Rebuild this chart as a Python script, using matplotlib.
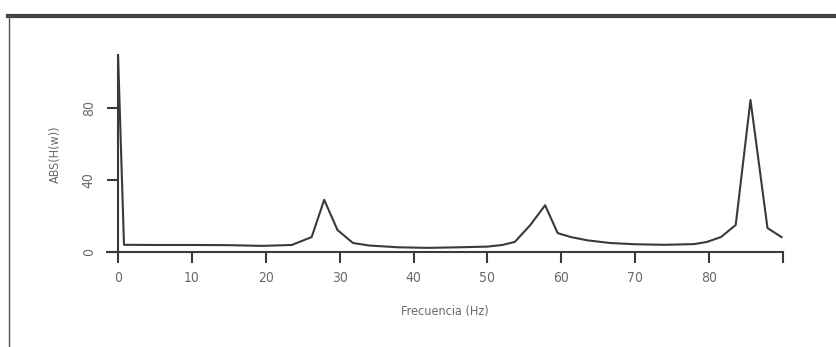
import numpy as np
import matplotlib
matplotlib.use('Agg')
import matplotlib.pyplot as plt
from matplotlib.lines import Line2D
from matplotlib import font_manager

freq = [0, 0.8, 5, 10, 15, 19.5, 23.5, 26.2, 27.9, 29.7, 31.8, 34.0,
        38.0, 42.0, 46.0, 50.0, 52.0, 53.7, 55.8, 57.8, 59.5, 61.3,
        63.5, 66.6, 70.0, 74.0, 78.0, 79.7, 81.6, 83.6, 85.6, 87.9, 89.8]
mag = [109, 4, 3.9, 3.9, 3.8, 3.4, 3.9, 8.3, 29, 12.2, 5.0, 3.6,
       2.6, 2.3, 2.6, 3.0, 3.9, 5.6, 15, 26, 10.5, 8.3,
       6.5, 5.0, 4.3, 4.0, 4.4, 5.6, 8.3, 15, 84.5, 13.3, 8.3]

xticks = [0, 10, 20, 30, 40, 50, 60, 70, 80, 90]
xticklabels = ['0', '10', '20', '30', '40', '50', '60', '70', '80', '']
yticks = [0, 40, 80]
yticklabels = ['0', '40', '80']

# prefer a narrow face when one is around
condensed = [f for f in font_manager.fontManager.ttflist
             if f.name == 'DejaVu Sans' and f.stretch == 'condensed']
if condensed:
    plt.rcParams['font.family'] = 'DejaVu Sans'
    plt.rcParams['font.stretch'] = 'condensed'
else:
    plt.rcParams['font.family'] = 'Liberation Sans'

ink = '#3a3a3a'
txt = '#6a6a6a'

fig = plt.figure(figsize=(8.36, 3.47), dpi=100)
ax = fig.add_axes([107 / 836, 1 - 252 / 347, (783 - 107) / 836, (252 - 55) / 347])

ax.plot(freq, mag, color=ink, lw=1.5)

ax.set_xlim(-1.5, 90)
ax.set_ylim(0, 109.5)
ax.spines['top'].set_visible(False)
ax.spines['right'].set_visible(False)
ax.spines['left'].set_position(('data', 0))
for s in ('left', 'bottom'):
    ax.spines[s].set_color(ink)
    ax.spines[s].set_linewidth(1.5)

ax.set_xticks(xticks)
ax.set_xticklabels(xticklabels)
ax.set_yticks(yticks)
ax.set_yticklabels(yticklabels, rotation=90, va='center')
ax.tick_params(axis='both', direction='out', length=8, width=1.5, color=ink,
               labelcolor=txt, labelsize=10)
ax.tick_params(axis='x', pad=6)
ax.tick_params(axis='y', pad=8)

ax.set_xlabel('Frecuencia (Hz)', color=txt, fontsize=9, labelpad=14)
fig.text(55 / 836, 1 - 154 / 347, 'ABS(H(w))', rotation=90, color=txt,
         fontsize=9, ha='center', va='center')

# panel frame: heavy rule on top, thin rule on the left
fig.add_artist(Line2D([8 / 836, 1.0], [1 - 16 / 347, 1 - 16 / 347],
                      transform=fig.transFigure, color='#444444', lw=3))
fig.add_artist(Line2D([9 / 836, 9 / 836], [0, 1 - 16 / 347],
                      transform=fig.transFigure, color='#555555', lw=1))

fig.savefig('out.png', dpi=100)
